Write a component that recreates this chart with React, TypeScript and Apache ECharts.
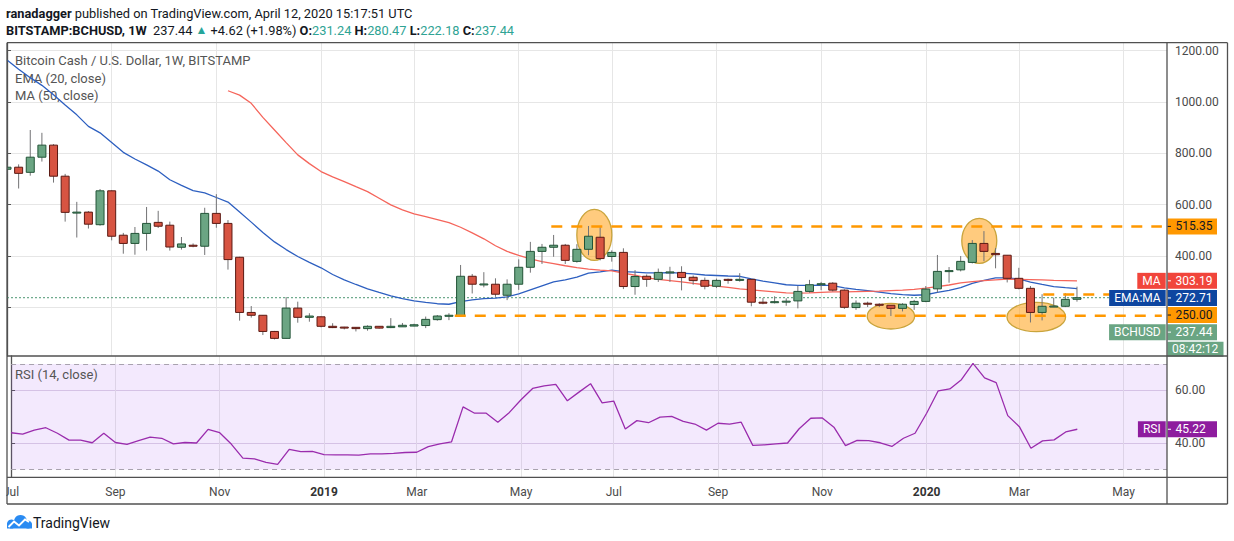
import React, { useEffect, useRef } from "react";
import * as echarts from "echarts";

// ---- data (weekly BCHUSD, index 0 = week of 2 Jul 2018) ----
const opens = [738,746,726,785,832,711,570,571,522,654,481,449,488,531,520,434,442,438,566,527,395,180,169,106,79,197,161,163,126,123,122,117,126,121,124,127,129,152,165,166,321,289,290,247,290,356,418,434,442,379,426,473,398,414,281,321,309,336,336,317,305,282,309,305,309,220,219,223,225,262,290,294,267,199,216,212,208,196,211,223,272,340,346,375,449,410,403,313,274,180,201,204,231.24];
const highs = [755,757,891,880,836,720,611,575,661,656,490,513,591,576,534,474,449,588,641,540,397,205,170,108,240,222,177,165,138,124,123,130,127,158,139,136,164,170,177,365,330,337,313,309,387,455,447,482,447,446,517,517,422,430,345,328,351,358,360,324,316,312,312,333,309,236,243,235,283,307,299,298,270,227,222,216,208,216,229,283,404,357,400,462,497,431,403,354,283,251,238,255,280.47];
const lows = [720,663,713,768,686,534,472,507,518,461,409,405,421,509,421,425,434,404,510,347,148,160,92,75,78,140,144,122,119,114,106,109,117,119,124,126,119,148,150,166,254,278,241,228,268,335,369,397,369,374,403,383,378,271,249,280,299,299,266,288,270,275,292,300,204,212,215,206,196,257,267,262,194,190,201,201,166,184,190,220,258,296,340,371,380,352,297,270,141,149,201,201,222.18];
const closes = [746,722,785,832,711,570,571,524,654,477,449,488,527,516,435,447,438,566,527,386,180,169,106,79,197,161,166,126,121,121,117,126,119,126,130,132,153,166,169,321,290,291,251,290,356,418,434,442,383,426,477,390,414,281,320,309,336,338,316,304,282,305,305,309,220,219,222,224,262,288,292,267,200,216,214,208,196,212,223,271,340,343,379,449,418,405,313,274,180,204,205,231,237.44];
const ema20 = [1164,1128,1095,1065,1028,988,950,905,880,842,804,778,755,731,697,675,655,646,628,610,571,532,492,455,425,398,375,354,328,307,289,272,258,245,234,225,219,214,212,222,229,234,236,241,252,268,284,299,307,318,333,338,345,339,337,334,334.5,335,333,330,326,324,322,321,311,302,295,288,285.5,285.7,286.3,284.5,276,270,265,259.5,253.5,249.5,247,249,258,266,277,293,305,315,314.5,310.6,298,289,281,276.5,272.71];
const ma50 = [null,null,null,null,null,null,null,null,null,null,null,null,null,null,null,null,null,null,null,1044,1027,995,940,891,842,794,760,729,708,690,670,651,625,599,580,564,553,542,530,512,490,467,440,418,402,389,378,370,362,355,349,345,342,333,325,315,309,304,299,293,288,283,278,272,268,264,260,256,255,256,258,260,260,261,262,263,265,267,270,275,281,287,295,300,304,307,310,309,308,307,305,304,303.19];
const rsi14 = [43.9,43.4,44.9,45.8,43.7,41.1,41.1,40.1,43.7,40.2,39.5,40.9,42.2,41.8,39.7,40.2,40.0,45.2,43.9,39.6,34.3,34.0,32.7,31.9,37.6,36.7,36.8,35.6,35.5,35.5,35.4,35.9,35.9,36.1,36.4,36.5,38.6,39.7,40.4,53.7,51.3,51.3,47.9,51.6,56.4,60.7,61.7,62.2,56.0,59.3,62.5,55.2,55.9,45.3,48.5,47.7,49.8,50.1,48.2,47.2,44.9,47.5,47.2,47.9,39.1,39.3,39.7,40.0,45.4,49.4,49.5,46.0,39.0,41.0,40.9,40.1,38.7,41.8,43.7,51.3,59.8,60.5,64.0,70.2,64.7,62.9,50.4,46.2,38.0,40.8,41.2,44.2,45.22];

const monthTickWeeks = [0, 9, 18, 27, 35, 44, 52, 61, 70, 79, 87, 96];
const monthTickLabels = ["Jul", "Sep", "Nov", "2019", "Mar", "May", "Jul", "Sep", "Nov", "2020", "Mar", "May"];
const priceTicks = [200, 400, 600, 800, 1000, 1200];
const priceLabels = [400, 600, 800, 1000, 1200];
const rsiTicks = [40, 60];

// horizontal levels drawn by the author: [startWeek, endWeek, price]
const resistanceLevel = [46.8, 99.3, 515.35];
const supportLevel = [38.5, 99.3, 167];
const shortLevel = [89.1, 99.3, 250];
const lastClose = 237.44;
// highlighted areas: [week, price]
const highlightCenters = [[50.5, 482], [83.6, 459], [76.0, 165.4], [88.5, 162.3]];

const HIGHLIGHT_RADII = [[17.5, 25.5], [17.5, 22.5], [23.7, 12.8], [29.3, 14.7]];
const FONT = "Roboto, 'Noto Sans', Arial, sans-serif";
const X_MAX = 99.74;

export default function App() {
  const ref = useRef<HTMLDivElement>(null);
  useEffect(() => {
    document.body.style.margin = "0";
    const chart = echarts.init(ref.current!, null, { renderer: "svg" });
    const candleData = opens.map((o, i) => [i, o, closes[i], lows[i], highs[i]]);
    const axisText = { color: "#4a4a4a", fontSize: 12, fontFamily: FONT };
    const gridLine = { show: true, lineStyle: { color: "#e6e6e6", width: 1 } };
    const levelSeries = (lv: number[], name: string, width = 2.5) => ({
      type: "line", name, xAxisIndex: 0, yAxisIndex: 0, symbol: "none", z: 5, silent: true,
      data: [[lv[0], lv[2]], [lv[1], lv[2]]],
      lineStyle: { color: "#ff9800", width, type: [11, 9] },
    });
    const option: any = {
      animation: false,
      grid: [
        { left: 7, right: 67, top: 42.7, height: 313.3 },
        { left: 7, right: 67, top: 356, height: 121.3 },
      ],
      xAxis: [
        {
          type: "value", gridIndex: 0, min: 0, max: X_MAX,
          axisLine: { show: false }, axisLabel: { show: false },
          axisTick: { show: false, customValues: monthTickWeeks },
          splitLine: gridLine,
        },
        {
          type: "value", gridIndex: 1, min: 0, max: X_MAX,
          axisLine: { show: false },
          axisTick: { show: false, customValues: monthTickWeeks },
          axisLabel: {
            customValues: monthTickWeeks, margin: 9, alignMinLabel: "center", alignMaxLabel: "center", ...axisText,
            formatter: (v: number) => {
              const k = monthTickWeeks.indexOf(Math.round(v));
              const t = k >= 0 ? monthTickLabels[k] : "";
              return /^\d{4}$/.test(t) ? "{y|" + t + "}" : t;
            },
            rich: { y: { fontWeight: "bold", color: "#333", fontSize: 12, fontFamily: FONT } },
          },
          splitLine: gridLine,
        },
      ],
      yAxis: [
        {
          type: "value", gridIndex: 0, position: "right", min: 10.3, max: 1231.2,
          axisLine: { show: true, lineStyle: { color: "#555", width: 1.3 } },
          axisTick: { show: true, length: 4, customValues: priceTicks, lineStyle: { color: "#555" } },
          axisLabel: { customValues: priceLabels, margin: 8, ...axisText, formatter: (v: number) => v.toFixed(2) },
          splitLine: gridLine,
        },
        {
          type: "value", gridIndex: 1, position: "right", min: 27, max: 73,
          axisLine: { show: true, lineStyle: { color: "#555", width: 1.3 } },
          axisTick: { show: true, length: 4, customValues: rsiTicks, lineStyle: { color: "#555" } },
          axisLabel: { customValues: rsiTicks, margin: 8, ...axisText, formatter: (v: number) => v.toFixed(2) },
          splitLine: { show: true, lineStyle: { color: "#ddd3e4", width: 1 } },
        },
      ],
      series: [
        {
          type: "custom", name: "highlights", xAxisIndex: 0, yAxisIndex: 0, z: 1, silent: true,
          data: highlightCenters,
          renderItem: (params: any, api: any) => {
            const p = api.coord([api.value(0), api.value(1)]);
            const r = HIGHLIGHT_RADII[params.dataIndex];
            return {
              type: "ellipse",
              shape: { cx: p[0], cy: p[1], rx: r[0], ry: r[1] },
              style: { fill: "rgba(255,160,20,0.55)", stroke: "#c9a43c", lineWidth: 1.3 },
            };
          },
        },
        {
          type: "line", name: "EMA (20, close)", xAxisIndex: 0, yAxisIndex: 0, symbol: "none", z: 3,
          data: ema20.map((v, i) => [i, v]),
          lineStyle: { color: "#2d5fc0", width: 1.3 },
        },
        {
          type: "line", name: "MA (50, close)", xAxisIndex: 0, yAxisIndex: 0, symbol: "none", z: 3,
          data: ma50.map((v, i) => [i, v]).filter((d) => d[1] != null),
          lineStyle: { color: "#f5655b", width: 1.3 },
        },
        {
          type: "line", name: "last", xAxisIndex: 0, yAxisIndex: 0, symbol: "none", z: 2, silent: true,
          data: [[0, lastClose], [X_MAX, lastClose]],
          lineStyle: { color: "#4c9672", width: 1, type: [2, 2] },
        },
        levelSeries(resistanceLevel, "resistance"),
        levelSeries(supportLevel, "support"),
        levelSeries(shortLevel, "level250"),
        {
          type: "custom", name: "BCHUSD", xAxisIndex: 0, yAxisIndex: 0, z: 4, clip: true,
          data: candleData,
          renderItem: (params: any, api: any) => {
            const x = api.value(0), o = api.value(1), c = api.value(2), l = api.value(3), h = api.value(4);
            const po = api.coord([x, o]);
            const pc = api.coord([x, c]);
            const pl = api.coord([x, l]);
            const ph = api.coord([x, h]);
            const up = c >= o;
            const top = Math.min(po[1], pc[1]);
            const hgt = Math.max(1, Math.abs(po[1] - pc[1]));
            return {
              type: "group",
              children: [
                { type: "line", shape: { x1: po[0], y1: ph[1], x2: po[0], y2: pl[1] }, style: { stroke: "#737375", lineWidth: 1 } },
                {
                  type: "rect",
                  shape: { x: po[0] - 4, y: top, width: 8, height: hgt },
                  style: { fill: up ? "#6ba583" : "#d75442", stroke: up ? "#225437" : "#5b1a13", lineWidth: 1 },
                },
              ],
            };
          },
        },
        {
          type: "line", name: "RSI (14, close)", xAxisIndex: 1, yAxisIndex: 1, symbol: "none", z: 3,
          data: rsi14.map((v, i) => [i, v]),
          lineStyle: { color: "#9a2cad", width: 1.3 },
          markArea: {
            silent: true,
            itemStyle: { color: "rgba(160,70,235,0.12)" },
            data: [[{ yAxis: 30 }, { yAxis: 70 }]],
          },
          markLine: {
            silent: true, symbol: "none", label: { show: false },
            lineStyle: { color: "#a8a2ae", width: 1, type: [5, 4] },
            data: [{ yAxis: 30 }, { yAxis: 70 }],
          },
        },
      ],
    };
    chart.setOption(option);

    // ---------- price tags on the right scale, stacked like TradingView ----------
    const yMain = (v: number) => (chart.convertToPixel({ gridIndex: 0 } as any, [0, v]) as number[])[1];
    const yRsi = (v: number) => (chart.convertToPixel({ gridIndex: 1 } as any, [0, v]) as number[])[1];
    const g: any[] = [];
    const tag = (y: number, value: string, bg: string, fg: string, label: string) => {
      g.push({ type: "rect", shape: { x: 1167.5, y: y - 8, width: 49.5, height: 16 }, style: { fill: bg }, z: 10 });
      g.push({ type: "line", shape: { x1: 1167.5, y1: y, x2: 1171, y2: y }, style: { stroke: fg, lineWidth: 1 }, z: 11 });
      g.push({ type: "text", x: 1175.5, y, style: { text: value, fill: fg, font: `12px ${FONT}`, verticalAlign: "middle", align: "left" }, z: 11 });
      if (label) {
        g.push({
          type: "text", x: 1165.7, y,
          style: { text: label, fill: fg, backgroundColor: bg, padding: [2, 5, 1, 5], lineHeight: 13, font: `12px ${FONT}`, align: "right", verticalAlign: "middle" },
          z: 10,
        });
      }
    };
    tag(yMain(resistanceLevel[2]), resistanceLevel[2].toFixed(2), "#ff9800", "#131722", "");
    const stack = [
      { v: ma50[ma50.length - 1] as number, bg: "#f1453b", fg: "#ffffff", label: "MA" },
      { v: ema20[ema20.length - 1], bg: "#0e46a0", fg: "#ffffff", label: "EMA:MA" },
      { v: shortLevel[2], bg: "#ff9800", fg: "#131722", label: "" },
      { v: lastClose, bg: "#6aa583", fg: "#ffffff", label: "BCHUSD" },
    ];
    let prev = -1e9;
    for (const s of stack) {
      const y = Math.max(yMain(s.v), prev + 17.1);
      tag(y, s.v.toFixed(2), s.bg, s.fg, s.label);
      prev = y;
    }
    // countdown tag under the last price
    g.push({ type: "rect", shape: { x: 1167.5, y: prev + 17.1 - 7.5, width: 56, height: 15 }, style: { fill: "#6aa583" }, z: 10 });
    g.push({ type: "text", x: 1172, y: prev + 17.1, style: { text: "08:42:12", fill: "#fff", font: `12px ${FONT}`, verticalAlign: "middle" }, z: 11 });
    // RSI tag
    const rsiLast = rsi14[rsi14.length - 1];
    tag(yRsi(rsiLast), rsiLast.toFixed(2), "#8e1c9e", "#ffffff", "RSI");

    // frame
    const frame = "#505050";
    const L = (x1: number, y1: number, x2: number, y2: number) =>
      g.push({ type: "line", shape: { x1, y1, x2, y2 }, style: { stroke: frame, lineWidth: 1.3 }, z: 12 });
    g.push({ type: "rect", shape: { x: 0, y: 40, width: 6.4, height: 470 }, style: { fill: "#ffffff" }, z: 11 });
    L(7, 42.7, 1227.5, 42.7);
    L(7, 42.7, 7, 504);
    L(1227.5, 42.7, 1227.5, 504);
    L(7, 504, 1227.5, 504);
    L(7, 356, 1227.5, 356);
    L(7, 477.3, 1227.5, 477.3);
    L(1167, 42.7, 1167, 504);

    // header
    g.push({
      type: "text", x: 6, y: 13,
      style: {
        text: "{b|ranadagger} published on TradingView.com, April 12, 2020 15:17:51 UTC",
        font: `12.8px ${FONT}`, fill: "#131722", verticalAlign: "middle",
        rich: { b: { fontWeight: "bold", fontSize: 12.8, fontFamily: FONT, fill: "#131722" } },
      },
    });
    g.push({
      type: "text", x: 6, y: 30,
      style: {
        text: "{b|BITSTAMP:BCHUSD, 1W}  237.44 {g|▲} +4.62 (+1.98%) {b|O:}{t|231.24} {b|H:}{t|280.47} {b|L:}{t|222.18} {b|C:}{t|237.44}",
        font: `12.8px ${FONT}`, fill: "#131722", verticalAlign: "middle",
        rich: {
          b: { fontWeight: "bold", fontSize: 12.8, fontFamily: FONT, fill: "#131722" },
          g: { fontSize: 12, fontFamily: FONT, fill: "#26a69a" },
          t: { fontSize: 12.8, fontFamily: FONT, fill: "#2fa394" },
        },
      },
    });
    // legends
    const legend = (text: string, y: number) =>
      g.push({ type: "text", x: 15, y, style: { text, font: `13px ${FONT}`, fill: "#555", verticalAlign: "middle" }, z: 1 });
    legend("Bitcoin Cash / U.S. Dollar, 1W, BITSTAMP", 60);
    legend("EMA (20, close)", 78);
    legend("MA (50, close)", 95);
    legend("RSI (14, close)", 374);

    // TradingView logo
    const blue = "#2a8bf2";
    g.push({
      type: "group", x: 0, y: 0,
      children: [
        { type: "circle", shape: { cx: 11.5, cy: 524, r: 4.5 }, style: { fill: blue } },
        { type: "circle", shape: { cx: 20.5, cy: 521.5, r: 6.5 }, style: { fill: blue } },
        { type: "circle", shape: { cx: 28, cy: 524.5, r: 4 }, style: { fill: blue } },
        { type: "rect", shape: { x: 7, y: 523.5, width: 25, height: 5 }, style: { fill: blue } },
        { type: "polyline", shape: { points: [[8.5, 527], [14, 521.5], [19, 525.5], [25, 519.5], [29, 522]] }, style: { stroke: "#fff", lineWidth: 1.8, fill: null } },
      ],
    });
    g.push({ type: "text", x: 33, y: 522.5, style: { text: "TradingView", font: `14px ${FONT}`, fill: "#131722", verticalAlign: "middle" } });

    chart.setOption({ graphic: g });
    return () => chart.dispose();
  }, []);
  return <div ref={ref} style={{ width: 1234, height: 541 }} />;
}
